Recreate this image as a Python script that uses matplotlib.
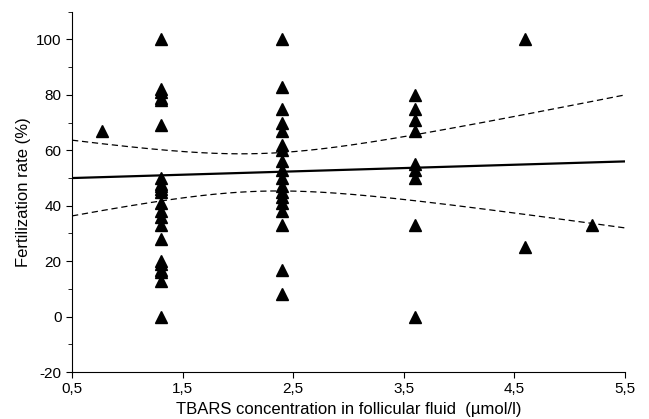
import numpy as np
import matplotlib
matplotlib.use("Agg")
import matplotlib.pyplot as plt
from matplotlib.ticker import MultipleLocator, FuncFormatter

plt.rcParams['font.family'] = ['Liberation Sans', 'DejaVu Sans']
plt.rcParams['axes.unicode_minus'] = False

# TBARS (umol/l) and fertilization rate (%)
tbars_13 = [1.3] * 22
fert_13 = [100, 82, 81, 79, 78, 69, 50, 48, 47, 46, 45, 41, 38, 36, 33, 28,
           20, 19, 17, 16, 13, 0]
tbars_24 = [2.4] * 18
fert_24 = [100, 83, 75, 70, 67, 62, 60, 56, 53, 50, 47, 45, 43, 41, 38, 33, 17, 8]
tbars_36 = [3.6] * 9
fert_36 = [80, 75, 71, 67, 55, 53, 50, 33, 0]
tbars_other = [0.77, 4.6, 4.6, 5.2]
fert_other = [67, 100, 25, 33]

# regression line and 95% band
fit_intercept = 49.4
fit_slope = 1.2
band_center = 2.2
band_min_hw = 6.8
band_curv = 48.6

x = tbars_13 + tbars_24 + tbars_36 + tbars_other
y = fert_13 + fert_24 + fert_36 + fert_other

xs = np.linspace(0.5, 5.5, 200)
fit = fit_intercept + fit_slope * xs
hw = np.sqrt(band_min_hw ** 2 + band_curv * (xs - band_center) ** 2)

fig = plt.figure(figsize=(6.49, 4.19), dpi=100)
ax = fig.add_axes([0.111, 0.112, 0.852, 0.86])

ax.plot(x, y, '^', color='black', markersize=8, clip_on=False, zorder=3)
ax.plot(xs, fit, '-', color='black', lw=1.6)
ax.plot(xs, fit + hw, '--', color='black', lw=0.9, dashes=(5, 3))
ax.plot(xs, fit - hw, '--', color='black', lw=0.9, dashes=(5, 3))

ax.set_xlim(0.5, 5.5)
ax.set_ylim(-20, 110)
ax.set_xticks([0.5, 1.5, 2.5, 3.5, 4.5, 5.5])
ax.set_yticks([-20, 0, 20, 40, 60, 80, 100])
ax.yaxis.set_minor_locator(MultipleLocator(10))
ax.xaxis.set_major_formatter(FuncFormatter(lambda v, p: f"{v:.1f}".replace('.', ',')))

for side in ['top', 'right']:
    ax.spines[side].set_visible(False)
ax.tick_params(which='both', direction='out', labelsize=11)
ax.tick_params(which='major', length=4)
ax.tick_params(which='minor', length=3)

ax.set_xlabel('TBARS concentration in follicular fluid  (µmol/l)', fontsize=12, labelpad=4)
ax.set_ylabel('Fertilization rate (%)', fontsize=12, labelpad=4)

fig.savefig('out.png', dpi=100)
